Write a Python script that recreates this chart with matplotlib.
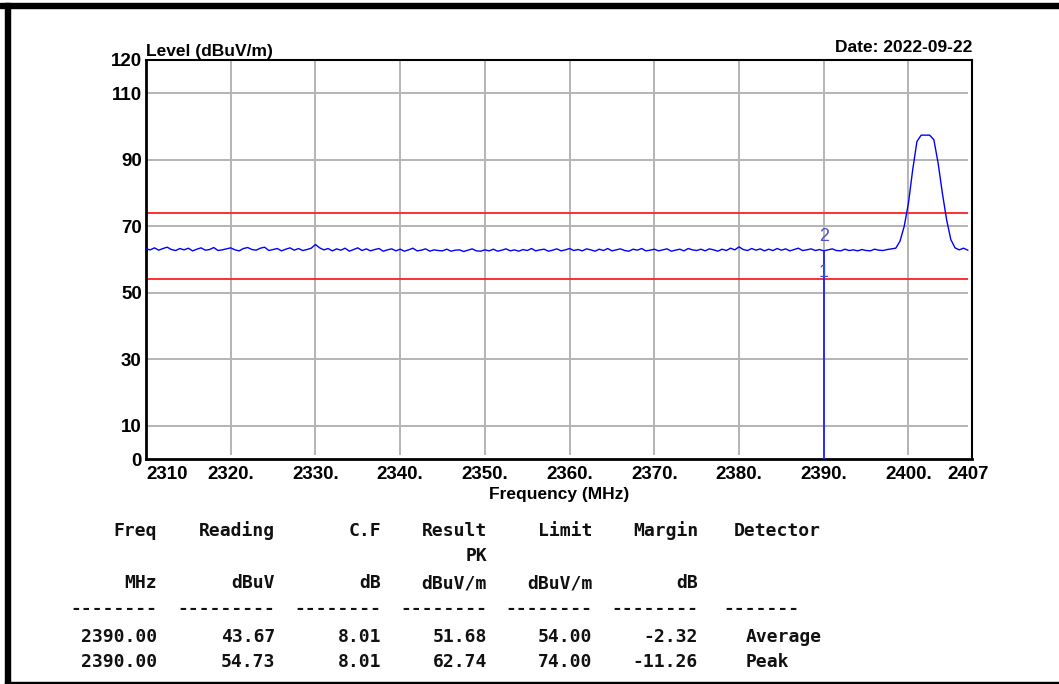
import numpy as np
import matplotlib
matplotlib.use("Agg")
import matplotlib.pyplot as plt
from matplotlib.patches import Rectangle

# trace sampled every 0.5 MHz from 2310 to 2407
freq_start = 2310.0
freq_step = 0.5
level = [
    63.2, 62.9, 63.5, 62.8, 63.3, 63.7, 63.0, 62.7, 63.3, 62.9,
    63.4, 62.6, 63.1, 63.5, 62.8, 63.0, 63.6, 62.7, 62.9, 63.2,
    63.5, 62.9, 62.6, 63.3, 63.6, 63.0, 62.8, 63.4, 63.7, 62.7,
    63.0, 63.3, 62.6, 63.1, 63.5, 62.8, 63.3, 62.7, 63.0, 63.4,
    64.5, 63.5, 62.9, 63.3, 62.6, 63.2, 62.8, 63.4, 62.5, 63.0,
    63.5, 62.7, 63.2, 62.6, 63.0, 63.3, 62.5, 62.9, 63.2, 62.6,
    63.1, 62.5, 62.9, 63.4, 62.6, 62.8, 63.2, 62.5, 62.9, 62.7,
    62.6, 63.1, 62.5, 62.8, 62.9, 62.4, 62.8, 63.2, 62.6, 62.5,
    62.9, 62.6, 63.1, 62.5, 62.8, 63.2, 62.6, 62.9, 62.5, 63.0,
    62.7, 63.3, 62.6, 62.9, 63.1, 62.5, 62.8, 63.2, 62.6, 62.9,
    63.3, 62.7, 63.0, 62.6, 63.2, 62.9, 62.5, 63.1, 62.7, 63.3,
    62.6, 62.9, 63.2, 62.7, 62.5, 63.1, 62.8, 63.3, 62.6, 62.8,
    63.1, 62.6, 62.9, 63.2, 62.5, 62.8, 63.1, 62.6, 63.3, 62.9,
    62.7, 63.1, 62.6, 63.2, 62.9, 62.5, 63.1, 62.7, 63.4, 62.9,
    63.8, 63.0, 62.7, 63.3, 62.8, 63.2, 62.6, 63.1, 62.7, 63.3,
    62.8, 63.2, 62.6, 63.0, 63.4, 62.7, 62.9, 63.2, 62.7, 63.0,
    62.6, 62.9, 63.2, 62.7, 62.6, 63.1, 62.7, 62.9, 62.6, 63.0,
    62.7, 62.6, 63.1, 62.8, 62.7, 63.0, 63.2,
    # carrier at ~2402 MHz
    63.4, 65.5, 70.0, 77.0, 87.0, 95.5, 97.4, 97.4, 97.4,
    96.0, 89.0, 80.0, 72.0, 66.0, 63.5, 62.9, 63.4, 62.8,
]
freq = freq_start + freq_step * np.arange(len(level))

limits = [74.0, 54.0]
marker_freq = 2390.0
marker_levels = [51.68, 62.74]

yticks = [0, 10, 30, 50, 70, 90, 110, 120]
ygrid = [10, 30, 50, 70, 90, 110]
xticks = [2310, 2320, 2330, 2340, 2350, 2360, 2370, 2380, 2390, 2400, 2407]
xtick_labels = ["2310", "2320.", "2330.", "2340.", "2350.", "2360.", "2370.",
                "2380.", "2390.", "2400.", "2407"]

# result table
headers = ["Freq", "Reading", "C.F", "Result", "Limit", "Margin"]
units = ["MHz", "dBuV", "dB", "dBuV/m", "dBuV/m", "dB"]
rows = [
    ["2390.00", "43.67", "8.01", "51.68", "54.00", "-2.32", "Average"],
    ["2390.00", "54.73", "8.01", "62.74", "74.00", "-11.26", "Peak"],
]

W, H = 1059, 684
fig = plt.figure(figsize=(W / 100, H / 100), dpi=100)

def fx(px):
    return px / W

def fy(py):
    return 1 - py / H

# page frame
fig.patches.append(Rectangle((0, fy(8)), 1, 5 / H, transform=fig.transFigure,
                             color="black", zorder=0))
fig.patches.append(Rectangle((fx(5), 0), 5 / W, fy(3), transform=fig.transFigure,
                             color="black", zorder=0))
fig.patches.append(Rectangle((fx(5), 0), 1, 2.5 / H, transform=fig.transFigure,
                             color="black", zorder=0))

x0, x1, y0, y1 = 146, 972, 60, 459
ax = fig.add_axes([fx(x0), fy(y1), fx(x1) - fx(x0), fy(y0) - fy(y1)])
ax.set_xlim(2310, 2407.5)
ax.set_ylim(0, 120)

gc = "#b4b4b4"
ax.hlines(ygrid, 2310, 2407, colors=gc, lw=1.4, zorder=1)
ax.vlines(xticks[1:-1], 1.3, 120, colors=gc, lw=1.4, zorder=1)

ax.hlines(limits, 2310, 2407, colors="#ff2020", lw=1.3, zorder=2)
ax.plot(freq, level, color="#0000ff", lw=1.0, zorder=3)
ax.vlines(marker_freq, 0, marker_levels[1], colors="#2020ff", lw=1.3, zorder=4)
ax.text(marker_freq, 64.4, "2", color="#5050d0", fontsize=13, ha="center",
        va="bottom", family="Liberation Sans", zorder=5)
ax.text(marker_freq, 53.6, "1", color="#3050e0", fontsize=13, ha="center",
        va="bottom", family="Liberation Sans", zorder=5)

for s in ax.spines.values():
    s.set_color("black")
    s.set_linewidth(1.5)
ax.spines["left"].set_linewidth(2)
ax.spines["bottom"].set_linewidth(2)

tick_font = dict(family="Liberation Sans", weight="bold", size=13.5)
ax.set_yticks(yticks)
ax.set_yticklabels([str(v) for v in yticks], **tick_font)
ax.set_xticks(xticks)
ax.set_xticklabels(xtick_labels, **tick_font)
ax.get_xticklabels()[0].set_ha("left")
ax.tick_params(length=0, pad=3)
ax.tick_params(axis="x", pad=5)

lab_font = dict(family="Liberation Sans", weight="bold", size=12.5)
fig.text(fx(146), fy(56), "Level (dBuV/m)", ha="left", va="baseline", **lab_font)
fig.text(fx(972), fy(52), "Date: 2022-09-22", ha="right", va="baseline", **lab_font)
fig.text(fx(559), fy(494), "Frequency (MHz)", ha="center", va="center", **lab_font)

# table in monospace
mono = dict(family="DejaVu Sans Mono", weight="bold", size=13, color="#111111")
col_right = [157, 275, 381, 487, 592, 698]
dash_n = [8, 9, 8, 8, 8, 8]
for xr, h, u, n in zip(col_right, headers, units, dash_n):
    fig.text(fx(xr), fy(531), h, ha="right", va="center", **mono)
    fig.text(fx(xr), fy(583), u, ha="right", va="center", **mono)
    fig.text(fx(xr), fy(609), "-" * n, ha="right", va="center", **mono)
fig.text(fx(487), fy(556), "PK", ha="right", va="center", **mono)
fig.text(fx(734), fy(531), "Detector", ha="left", va="center", **mono)
fig.text(fx(723), fy(609), "-------", ha="left", va="center", **mono)
for row, yy in zip(rows, [637, 662]):
    for xr, v in zip(col_right, row[:6]):
        fig.text(fx(xr), fy(yy), v, ha="right", va="center", **mono)
    fig.text(fx(746), fy(yy), row[6], ha="left", va="center", **mono)

fig.savefig("out.png", dpi=100)
